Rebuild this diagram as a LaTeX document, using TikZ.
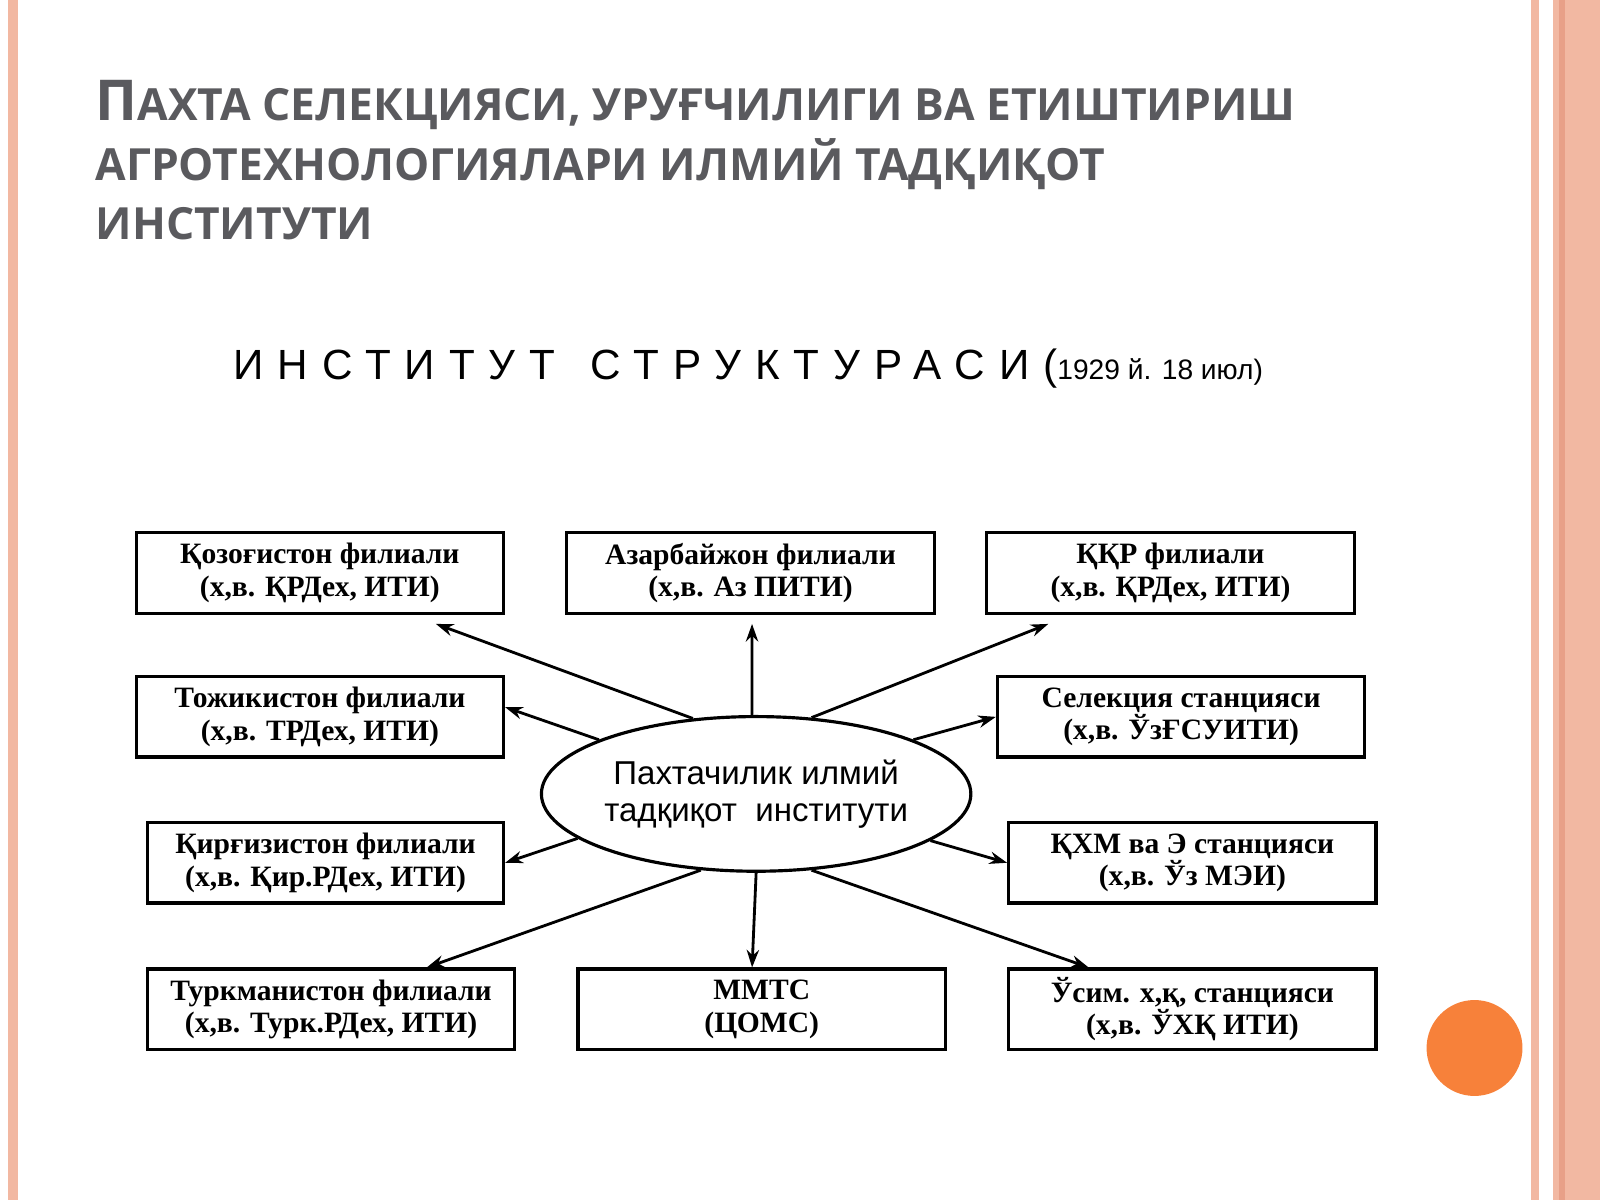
\documentclass[tikz,border=0pt]{standalone}
\usepackage{fontspec}
\setmainfont{Liberation Serif}
\newfontfamily\titlefont{Open Sans}
\newfontfamily\hsans{Liberation Sans}
\usetikzlibrary{arrows.meta,calc,shapes.geometric}
\definecolor{stripe}{HTML}{F2B8A2}
\definecolor{stripedark}{HTML}{E8A088}
\definecolor{titlegray}{HTML}{5A5A5E}
\definecolor{dotorange}{HTML}{F7813A}
\def\pxu{0.2892pt}
\tikzset{
  branch/.style={draw, line width=0.9pt, minimum height=79*\pxu, inner sep=0pt,
    align=center, font=\bfseries\fontsize{8.4}{9.2}\selectfont},
  link/.style={-{Stealth[length=5pt,width=3.5pt]}, line width=0.8pt},
}
\begin{document}
\begin{tikzpicture}[x=0.0102cm, y=-0.0102cm]
  \useasboundingbox (0,0) rectangle (1568,1176);
  % SLIDE FRAME
  \fill[stripe] (8,0) rectangle (18,1176);
  \fill[stripe] (1500,0) rectangle (1568,1176);
  \fill[white] (1508,0) rectangle (1522,1176);
  \fill[stripedark] (1528,0) rectangle (1534,1176);
  \fill[dotorange] (1445,1027) circle (47);
  % TITLE
  \node[anchor=west, inner sep=0, text=titlegray, align=left,
    font=\titlefont\bfseries\fontsize{12.6}{16.8}\selectfont] (title) at (93,157)
    {{\fontsize{16}{16.8}\selectfont П}АХТА СЕЛЕКЦИЯСИ, УРУҒЧИЛИГИ ВА ЕТИШТИРИШ\\
     АГРОТЕХНОЛОГИЯЛАРИ ИЛМИЙ ТАДҚИҚОТ\\ ИНСТИТУТИ};
  \node[anchor=west, inner sep=0, font=\hsans\fontsize{12}{12}\selectfont] (sub) at (228,361)
    {\addfontfeature{LetterSpace=33}ИНСТИТУТ\hspace{10pt}СТРУКТУРАСИ(\addfontfeature{LetterSpace=0}\fontsize{8}{8}\selectfont 1929 й. 18 июл)};
  % CENTRE
  \node[draw, ellipse, line width=0.9pt, minimum width=328*\pxu, minimum height=152*\pxu, inner sep=0,
    align=center, font=\hsans\fontsize{9.4}{10.5}\selectfont] (inst) at (741,778)
    {Пахтачилик илмий\\ тадқиқот\ \ институти};
  % BRANCHES
  \node[branch, minimum width=361*\pxu] (kaz) at (313.5,561.5) {Қозоғистон филиали\\(х,в. ҚРДех, ИТИ)};
  \node[branch, minimum width=361*\pxu] (azr) at (735.5,561.5) {Азарбайжон филиали\\(х,в. Аз ПИТИ)};
  \node[branch, minimum width=362*\pxu] (kkr) at (1147,561.5) {ҚҚР филиали\\(х,в. ҚРДех, ИТИ)};
  \node[branch, minimum width=361*\pxu] (toj) at (313.5,702.5) {Тожикистон филиали\\(х,в. ТРДех, ИТИ)};
  \node[branch, minimum width=361*\pxu] (sel) at (1157.5,702.5) {Селекция станцияси\\(х,в. ЎзҒСУИТИ)};
  \node[branch, minimum width=350*\pxu] (kir) at (319,845.5) {Қирғизистон филиали\\(х,в. Қир.РДех, ИТИ)};
  \node[branch, minimum width=361*\pxu] (kxm) at (1168.5,845.5) {ҚХМ ва Э станцияси\\(х,в. Ўз МЭИ)};
  \node[branch, minimum width=361*\pxu] (tur) at (324.5,989) {Туркманистон филиали\\(х,в. Турк.РДех, ИТИ)};
  \node[branch, minimum width=361*\pxu] (mmt) at (746.5,989) {ММТС\\(ЦОМС)};
  \node[branch, minimum width=361*\pxu] (usm) at (1168.5,989) {Ўсим. х,қ, станцияси\\(х,в. ЎХҚ ИТИ)};
  % ARROWS
  \draw[link] (inst.130) -- ([xshift=114*\pxu,yshift=-9*\pxu]kaz.south);
  \draw[link] (inst.93) -- ([xshift=1.5*\pxu,yshift=-9*\pxu]azr.south);
  \draw[link] (inst.54) -- ([xshift=-120*\pxu,yshift=-9*\pxu]kkr.south);
  \draw[link] (inst.161) -- ([yshift=9.5*\pxu]toj.east);
  \draw[link] (inst.19) -- (sel.west);
  \draw[link] (inst.194) -- (kir.east);
  \draw[link] (inst.345) -- (kxm.west);
  \draw[link] (inst.234) -- ([xshift=94*\pxu]tur.north);
  \draw[link] (inst.270) -- ([xshift=-9.5*\pxu]mmt.north);
  \draw[link] (inst.306) -- ([xshift=-102*\pxu]usm.north);
\end{tikzpicture}
\end{document}
